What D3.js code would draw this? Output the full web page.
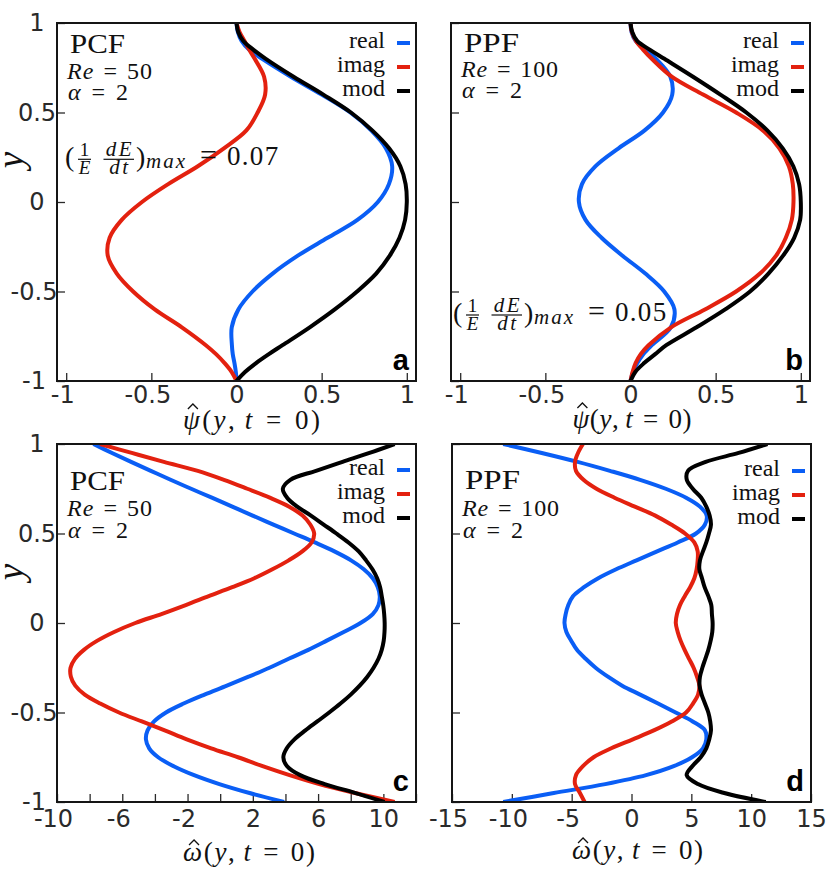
<!DOCTYPE html>
<html><head><meta charset="utf-8">
<script src="https://cdn.jsdelivr.net/npm/d3@7"></script>
<style>body{margin:0;background:#fff} svg{display:block}</style>
</head><body>
<svg id="chart" width="830" height="877"></svg>
<script>
// ---------- data ----------
const yAB = [1, 0.95, 0.9, 0.85, 0.8, 0.7, 0.6, 0.5, 0.4, 0.3, 0.2, 0.1, 0, -0.1, -0.2, -0.3, -0.4, -0.5, -0.6, -0.7, -0.8, -0.85, -0.9, -0.95, -1];
const aReal = [0, 0.008, 0.03, 0.075, 0.151, 0.319, 0.5, 0.668, 0.791, 0.877, 0.914, 0.895, 0.83, 0.71, 0.535, 0.36, 0.212, 0.094, 0.011, -0.028, -0.027, -0.022, -0.012, -0.004, 0];
const aImag = [0, 0.018, 0.047, 0.075, 0.107, 0.162, 0.168, 0.124, 0.058, -0.074, -0.227, -0.401, -0.555, -0.674, -0.745, -0.756, -0.703, -0.607, -0.48, -0.321, -0.18, -0.12, -0.07, -0.028, 0];
const aMod  = [0, 0.01, 0.04, 0.1, 0.172, 0.335, 0.51, 0.672, 0.797, 0.896, 0.962, 0.993, 1.0, 0.99, 0.957, 0.90, 0.82, 0.708, 0.577, 0.43, 0.27, 0.19, 0.115, 0.05, 0];
const bReal = [0, 0.006, 0.03, 0.09, 0.15, 0.234, 0.245, 0.191, 0.083, -0.07, -0.205, -0.285, -0.303, -0.264, -0.17, -0.047, 0.087, 0.198, 0.258, 0.237, 0.125, 0.075, 0.04, 0.015, 0];
const bImag = [0, 0.008, 0.032, 0.075, 0.125, 0.242, 0.426, 0.62, 0.777, 0.874, 0.93, 0.953, 0.957, 0.947, 0.912, 0.855, 0.76, 0.62, 0.437, 0.238, 0.106, 0.06, 0.03, 0.012, 0];
const bMod  = [0, 0.01, 0.039, 0.115, 0.199, 0.367, 0.528, 0.68, 0.803, 0.894, 0.956, 0.99, 1.0, 0.996, 0.961, 0.896, 0.81, 0.702, 0.556, 0.388, 0.21, 0.145, 0.08, 0.028, 0];

const yCD = [1, 0.95, 0.9, 0.85, 0.8, 0.75, 0.7, 0.65, 0.6, 0.55, 0.5, 0.45, 0.4, 0.35, 0.3, 0.25, 0.2, 0.15, 0.1, 0.05, 0,
             -0.05, -0.1, -0.15, -0.2, -0.25, -0.3, -0.35, -0.4, -0.45, -0.5, -0.55, -0.6, -0.65, -0.7, -0.75, -0.8, -0.85, -0.9, -0.95, -1];
const cReal = [-7.77, -6.63, -5.46, -4.25, -3.04, -1.78, -0.51, 0.74, 1.99, 3.26, 4.53, 5.8, 7.0, 8.02, 8.8, 9.35, 9.66, 9.78, 9.7, 9.35, 8.6,
               7.57, 6.5, 5.4, 4.2, 3.02, 1.74, 0.41, -0.96, -2.24, -3.32, -4.05, -4.45, -4.55, -4.35, -3.8, -2.85, -1.6, -0.05, 1.8, 3.92];
const cImag = [-7.36, -5.42, -3.45, -1.37, 0.23, 1.66, 3.04, 4.23, 5.05, 5.52, 5.76, 5.6, 5.03, 4.2, 3.2, 2.09, 0.74, -0.7, -2.11, -3.6, -5.2,
               -6.5, -7.55, -8.35, -8.9, -9.17, -9.15, -8.88, -8.3, -7.35, -6.2, -4.8, -3.4, -2.05, -0.55, 1.09, 2.6, 4.25, 6.07, 8.27, 10.69];
const cMod  = [10.69, 9.15, 7.5, 5.87, 4.3, 3.84, 4.1, 4.72, 5.56, 6.34, 7.12, 7.86, 8.49, 8.94, 9.33, 9.62, 9.8, 9.9, 9.99, 10.05, 10.08,
               10.07, 10.02, 9.9, 9.7, 9.4, 9.02, 8.55, 8.0, 7.37, 6.68, 5.95, 5.22, 4.55, 4.08, 3.87, 4.1, 4.9, 6.4, 8.3, 10.07];
const dReal = [-10.72, -7.5, -4.5, -1.8, 0.72, 2.86, 4.56, 5.72, 6.28, 6.14, 5.39, 3.86, 2.14, 0.42, -1.28, -2.78, -3.97, -4.89, -5.28, -5.5, -5.6,
               -5.44, -5.03, -4.56, -3.83, -3.0, -1.97, -0.78, 0.72, 2.22, 3.69, 5.11, 6.14, 6.25, 5.97, 5.06, 3.53, 1.22, -2.19, -6.5, -10.72];
const dImag = [-4.06, -4.47, -4.72, -4.64, -4.01, -2.93, -1.42, 0.28, 1.99, 3.31, 4.47, 5.25, 5.53, 5.53, 5.44, 5.25, 4.9, 4.45, 4.05, 3.8, 3.7,
               3.86, 4.11, 4.44, 4.81, 5.19, 5.47, 5.67, 5.56, 5.14, 4.56, 3.36, 1.86, 0.11, -1.69, -3.17, -4.06, -4.64, -4.72, -4.31, -3.92];
const dMod  = [11.36, 8.95, 6.2, 4.72, 4.62, 5.12, 5.83, 6.25, 6.53, 6.64, 6.47, 6.25, 5.97, 5.72, 5.67, 5.89, 6.11, 6.42, 6.67, 6.72, 6.78,
               6.75, 6.61, 6.42, 6.17, 5.92, 5.72, 5.69, 5.86, 6.14, 6.42, 6.58, 6.64, 6.5, 6.25, 5.78, 5.08, 4.61, 5.55, 7.75, 11.22];

const seriesNames = ["real", "imag", "mod"];
const seriesColors = ["#0a5ef5", "#e3210f", "#000000"];
const yTicks = [-1, -0.5, 0, 0.5, 1];
const xTicksAB = [-1, -0.5, 0, 0.5, 1];
const xTicksC = [-10, -8, -6, -4, -2, 0, 2, 4, 6, 8, 10, 12];
const xLabelsC = [-10, -6, -2, 2, 6, 10];
const xTicksD = [-15, -10, -5, 0, 5, 10, 15];
const flowNames = ["PCF", "PPF", "PCF", "PPF"];
const reValues = ["50", "100", "50", "100"];
const alphaValue = "2";
const growthValues = ["0.07", "0.05"];
const panelLetters = ["a", "b", "c", "d"];

// ---------- layout ----------
const SERIF = "'Liberation Serif','DejaVu Serif',serif";
const SANS = "'DejaVu Sans',sans-serif";
const BOLD = "'Liberation Sans',Arial,sans-serif";
const svg = d3.select("#chart");

const panels = [
  {box:[57,416,23,381], xd:[-1.054,1.054], ys:yAB, data:[aReal,aImag,aMod], xt:xTicksAB, xl:xTicksAB, yLab:160,
   txt:[30,56,77], reW:85, leg:[20,44,68], growth:[65,159.3,0], sym:"\u03C8", title:[251.5,429,137], pad:5},
  {box:[451,810,23,381], xd:[-1.054,1.054], ys:yAB, data:[bReal,bImag,bMod], xt:xTicksAB, xl:xTicksAB, yLab:null,
   txt:[29,54,75], reW:97, leg:[20,44,68], growth:[453,315,1], sym:"\u03C8", title:[632,428,119], pad:5},
  {box:[57,416,444,802], xd:[-10,12], ys:yCD, data:[cReal,cImag,cMod], xt:xTicksC, xl:xLabelsC, yLab:572,
   txt:[46,72,94], reW:85, leg:[26,50,74], growth:null, sym:"\u03C9", title:[249,861,132], pad:8},
  {box:[452,811,444,802], xd:[-15,15], ys:yCD, data:[dReal,dImag,dMod], xt:xTicksD, xl:xTicksD, yLab:null,
   txt:[45,72,94], reW:97, leg:[27,51,75], growth:null, sym:"\u03C9", title:[637.5,859,131], pad:8}
];

const defs = svg.append("defs");

panels.forEach((p, pi) => {
  const [x0, x1, y0, y1] = p.box;
  const x = d3.scaleLinear().domain(p.xd).range([x0, x1]);
  const y = d3.scaleLinear().domain([-1, 1]).range([y1, y0]);
  const g = svg.append("g");

  defs.append("clipPath").attr("id", "clip" + pi)
    .append("rect").attr("x", x0).attr("y", y0).attr("width", x1 - x0).attr("height", y1 - y0);

  // axes
  const xa = g.append("g").attr("transform", `translate(0,${y1})`)
    .call(d3.axisBottom(x).tickValues(p.xt).tickSizeInner(-8).tickSizeOuter(0).tickPadding(p.pad)
      .tickFormat(v => p.xl.includes(v) ? String(v) : ""));
  xa.select(".domain").remove();
  xa.attr("font-family", SANS).attr("font-size", 24).attr("color", "#2a2a2a");
  xa.selectAll(".tick line").attr("stroke-width", 1.3);
  xa.selectAll(".tick text").attr("dx", d => d < 0 ? -4 : 0);

  const ya = g.append("g").attr("transform", `translate(${x0},0)`)
    .call(d3.axisLeft(y).tickValues(yTicks).tickSizeInner(-8).tickSizeOuter(0)
      .tickFormat(v => p.yLab ? String(v) : ""));
  ya.select(".domain").remove();
  ya.attr("font-family", SANS).attr("font-size", 24).attr("color", "#2a2a2a");
  ya.selectAll(".tick line").attr("stroke-width", 1.3);
  ya.selectAll(".tick text").attr("text-anchor", "middle").attr("x", -20).attr("dx", d => d < 0 ? -3 : 0);

  // curves
  const line = d3.line().x(d => x(d[0])).y(d => y(d[1])).curve(d3.curveCatmullRom.alpha(0.5));
  const cg = g.append("g").attr("clip-path", `url(#clip${pi})`);
  p.data.forEach((vals, si) => {
    const pts = p.ys.map((yy, i) => [vals[i], yy]);
    cg.append("path").attr("d", line(pts)).attr("fill", "none")
      .attr("stroke", seriesColors[si]).attr("stroke-width", 4).attr("stroke-linejoin", "round");
  });

  // frame
  g.append("rect").attr("x", x0).attr("y", y0).attr("width", x1 - x0).attr("height", y1 - y0)
    .attr("fill", "none").attr("stroke", "#151515").attr("stroke-width", 2);

  // legend
  seriesNames.forEach((n, si) => {
    const ly = y0 + p.leg[si];
    g.append("text").attr("x", x1 - 31).attr("y", ly + 4.6).attr("text-anchor", "end")
      .attr("font-family", SERIF).attr("font-size", 24).attr("fill", "#111").text(n);
    g.append("line").attr("x1", x1 - 19).attr("x2", x1 - 6).attr("y1", ly).attr("y2", ly)
      .attr("stroke", seriesColors[si]).attr("stroke-width", 4);
  });

  // flow / parameters
  g.append("text").attr("x", x0 + 13).attr("y", y0 + p.txt[0]).attr("font-family", SERIF)
    .attr("font-size", 27).attr("fill", "#111").attr("textLength", 55).attr("lengthAdjust", "spacingAndGlyphs")
    .text(flowNames[pi]);
  const re = g.append("text").attr("x", x0 + 10).attr("y", y0 + p.txt[1]).attr("font-family", SERIF)
    .attr("font-size", 24).attr("fill", "#111").attr("textLength", p.reW).attr("lengthAdjust", "spacing");
  re.append("tspan").attr("font-style", "italic").text("Re");
  re.append("tspan").text("\u2004=\u2004" + reValues[pi]);
  const al = g.append("text").attr("x", x0 + 11).attr("y", y0 + p.txt[2]).attr("font-family", SERIF)
    .attr("font-size", 24).attr("fill", "#111").attr("textLength", 60).attr("lengthAdjust", "spacing");
  al.append("tspan").attr("font-style", "italic").text("\u03B1");
  al.append("tspan").text("\u2004=\u2004" + alphaValue);

  // growth-rate annotation (one text element, positioned tspans)
  if (p.growth) {
    const [gx, gy, gi] = p.growth;
    const gt = g.append("text").attr("font-family", SERIF).attr("fill", "#111");
    const S = (tx, ty, s, str, opt = {}) => {
      const t = gt.append("tspan").attr("x", tx).attr("y", ty).attr("font-size", s).text(str);
      if (opt.it) t.attr("font-style", "italic");
      if (opt.mid) t.attr("text-anchor", "middle");
      if (opt.ls) t.attr("letter-spacing", opt.ls);
      return t;
    };
    S(gx, gy + 6.5, 28, "(");
    S(gx + 19.5, gy - 3, 19, "1", {mid: true});
    S(gx + 19.5, gy + 15, 19, "E", {it: true, mid: true});
    S(gx + 55, gy - 3, 21, "dE", {it: true, mid: true, ls: 2.5});
    S(gx + 55, gy + 15, 21, "dt", {it: true, mid: true, ls: 2.5});
    S(gx + 71, gy + 6.5, 28, ")");
    S(gx + 81, gy + 9, 21, "max", {it: true, ls: 2});
    S(gx + 135, gy + 6, 30, "=");
    S(gx + 162, gy + 6, 27, growthValues[gi], {ls: 1.3});
    g.append("line").attr("x1", gx + 13).attr("x2", gx + 26).attr("y1", gy).attr("y2", gy).attr("stroke", "#111").attr("stroke-width", 1.2);
    g.append("line").attr("x1", gx + 38.5).attr("x2", gx + 69).attr("y1", gy).attr("y2", gy).attr("stroke", "#111").attr("stroke-width", 1.2);
  }

  // panel letter
  g.append("text").attr("x", x1 - 7).attr("y", y1 - 11).attr("text-anchor", "end")
    .attr("font-family", BOLD).attr("font-weight", "bold").attr("font-size", 29).attr("fill", "#000")
    .text(panelLetters[pi]);

  // x-axis title with hat accent
  const [tx, ty, tw] = p.title;
  const t = g.append("text").attr("x", tx).attr("y", ty).attr("text-anchor", "middle")
    .attr("font-family", SERIF).attr("font-size", 27).attr("fill", "#111")
    .attr("textLength", tw).attr("lengthAdjust", "spacing");
  t.append("tspan").attr("font-style", "italic").text(p.sym);
  t.append("tspan").text("(");
  t.append("tspan").attr("font-style", "italic").text("y");
  t.append("tspan").text(",\u2009");
  t.append("tspan").attr("font-style", "italic").text("t");
  t.append("tspan").text("\u2004=\u20040)");
  const ext = t.node().getExtentOfChar(0);
  const hx = ext.x + ext.width / 2 + 1.5;
  const hTop = p.sym === "\u03C8" ? ty - 25 : ty - 21;
  g.append("path").attr("d", `M${hx - 5},${hTop + 5} L${hx},${hTop} L${hx + 5},${hTop + 5}`)
    .attr("fill", "none").attr("stroke", "#111").attr("stroke-width", 1.3);

  // y-axis title
  if (p.yLab) {
    g.append("text").attr("transform", `translate(23,${p.yLab}) rotate(-90)`)
      .attr("text-anchor", "middle").attr("font-family", SERIF).attr("font-style", "italic")
      .attr("font-size", 37).attr("fill", "#111").text("y");
  }
});
</script>
</body></html>
